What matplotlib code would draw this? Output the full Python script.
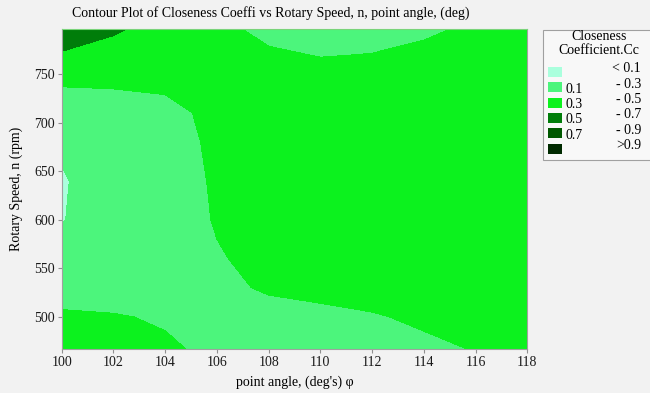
import matplotlib
matplotlib.use("Agg")
import matplotlib.pyplot as plt
from matplotlib.patches import Rectangle
import numpy as np

# Grid
point_angle = [100, 102, 104, 106, 108, 110, 112, 114, 116, 118]
rotary_speed = [467, 500, 530, 560, 600, 640, 680, 710, 740, 770, 796]

# Closeness coefficient, one row per rotary speed (bottom to top)
closeness = [
    [0.42, 0.37, 0.32, 0.27, 0.245, 0.245, 0.255, 0.275, 0.305, 0.35],
    [0.325, 0.31, 0.285, 0.26, 0.255, 0.265, 0.29, 0.32, 0.35, 0.38],
    [0.226, 0.23, 0.25, 0.27, 0.315, 0.34, 0.35, 0.36, 0.37, 0.39],
    [0.154, 0.19, 0.235, 0.29, 0.335, 0.36, 0.37, 0.38, 0.39, 0.40],
    [0.095, 0.16, 0.225, 0.31, 0.36, 0.38, 0.39, 0.40, 0.40, 0.41],
    [0.088, 0.17, 0.22, 0.32, 0.37, 0.39, 0.40, 0.40, 0.41, 0.41],
    [0.12, 0.17, 0.235, 0.33, 0.37, 0.38, 0.385, 0.39, 0.40, 0.41],
    [0.215, 0.23, 0.25, 0.345, 0.37, 0.37, 0.375, 0.38, 0.39, 0.41],
    [0.31, 0.315, 0.33, 0.37, 0.37, 0.35, 0.35, 0.37, 0.39, 0.42],
    [0.49, 0.44, 0.39, 0.345, 0.315, 0.295, 0.302, 0.32, 0.35, 0.39],
    [0.57, 0.52, 0.44, 0.33, 0.27, 0.26, 0.265, 0.285, 0.315, 0.36],
]

levels = [-1.0, 0.1, 0.3, 0.5, 0.7, 0.9, 2.0]
band_colors = ["#aaffdd", "#4cf57c", "#0cf21e", "#007d0a", "#005800", "#002a00"]
left_labels = ["", "0.1", "0.3", "0.5", "0.7", ""]
right_labels = ["< 0.1", "- 0.3", "- 0.5", "- 0.7", "- 0.9", ">0.9"]

W, H = 650, 393
bg = "#f2f2f2"
plt.rcParams["font.family"] = ["Liberation Serif", "DejaVu Serif"]

fig = plt.figure(figsize=(W / 100, H / 100), dpi=100, facecolor=bg)
ax = fig.add_axes([61.7 / W, 1 - 349 / H, (527.3 - 61.7) / W, (349 - 29.3) / H])

ax.contourf(point_angle, rotary_speed, np.array(closeness), levels=levels, colors=band_colors)

ax.set_xlim(100, 118)
ax.set_ylim(467, 796)
ax.set_xticks(range(100, 119, 2))
ax.set_yticks(range(500, 751, 50))
ax.tick_params(direction="out", length=3, color="#909090", labelsize=10, pad=2, labelcolor="#1a1a1a")
for s in ax.spines.values():
    s.set_color("#a0a0a0")
    s.set_linewidth(0.8)
ax.spines["top"].set_color("#7ad47a")

ax.set_xlabel("point angle, (deg's) \u03c6", fontsize=10, labelpad=5)
ax.set_ylabel("Rotary Speed, n (rpm)", fontsize=10, labelpad=8)
fig.text(271 / W, 1 - 13 / H, "Contour Plot of Closeness Coeffi vs Rotary Speed, n, point angle, (deg)",
         ha="center", va="center", fontsize=10)

# Legend box drawn by hand (Minitab style)
def px(x, y):
    return x / W, 1 - y / H

x0, y0 = px(543, 160)
fig.patches.append(Rectangle((x0, y0), 112 / W, 130 / H, transform=fig.transFigure,
                             facecolor="#f8f8f8", edgecolor="#a0a0a0", linewidth=0.8))
fig.text(*px(599, 37), "Closeness", ha="center", va="center", fontsize=10)
fig.text(*px(599, 50), "Coefficient.Cc", ha="center", va="center", fontsize=10)

for i, c in enumerate(band_colors):
    top = 67 + i * 15.3
    sx, sy = px(548, top + 10)
    fig.patches.append(Rectangle((sx, sy), 14 / W, 10 / H, transform=fig.transFigure,
                                 facecolor=c, edgecolor="none"))
    if left_labels[i]:
        fig.text(*px(565, top + 7), left_labels[i], ha="left", va="center", fontsize=10)
    fig.text(*px(641, top + 2), right_labels[i], ha="right", va="center", fontsize=10)

fig.savefig("out.png", dpi=100, facecolor=bg)
